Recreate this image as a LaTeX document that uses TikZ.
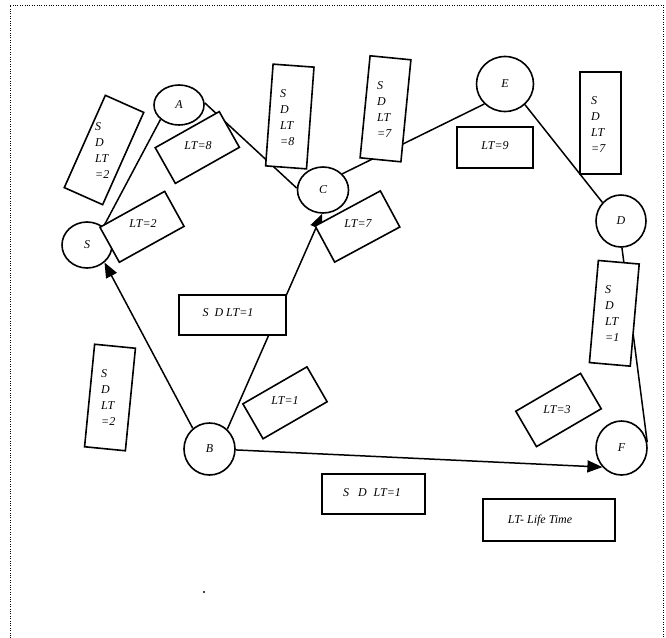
\documentclass[tikz,border=0pt]{standalone}
\usepackage{fontspec}
\setmainfont{Liberation Serif}
\usetikzlibrary{shapes.geometric,arrows.meta}
\begin{document}
\begin{tikzpicture}[x=1pt,y=1pt,
  vtx/.style={ellipse,draw,line width=1.6pt,fill=white,inner sep=0pt,font=\fontsize{12}{16}\selectfont\itshape},
  lbox/.style={rectangle,draw,line width=1.6pt,fill=white,inner sep=0pt},
  lbl/.style={font=\fontsize{12}{16}\selectfont\itshape,inner sep=0pt},
  vlbl/.style={lbl,align=left,anchor=west},
  edge/.style={line width=1.5pt},
  arr/.style={edge,-{Triangle[length=15pt,width=12pt]}}]
\useasboundingbox (0,0) rectangle (666,-637);
% frame
\draw[line width=1pt,dash pattern=on 1pt off 1.4pt] (10,-660) coordinate (f1) -- (10,-5) coordinate (f2) -- (663,-5) coordinate (f3) -- (663,-660) coordinate (f4);
% vertices
\node[vtx,minimum width=50,minimum height=46] (S) at (87,-245) {S};
\node[vtx,minimum width=50,minimum height=40] (A) at (179,-105) {A};
\node[vtx,minimum width=51,minimum height=46] (C) at (323,-190) {C};
\node[vtx,minimum width=57,minimum height=55] (E) at (505,-84) {E};
\node[vtx,minimum width=50,minimum height=52] (D) at (621,-221) {D};
\node[vtx,minimum width=51,minimum height=54] (F) at (621.5,-448) {F};
\node[vtx,minimum width=51,minimum height=52] (B) at (209.5,-449) {B};
% edges
\draw[edge] (S.48) -- (A.218);
\draw[edge] (A.5) -- (C.176);
\draw[edge] (C.40) -- (E.224);
\draw[edge] (E.-46) -- (D.135);
\draw[edge] (D.-88) -- (F.13);
\draw[arr] (B.129) -- (S.-45);
\draw[arr] (B.48) -- (C.-92);
\draw[arr] (B.-2) -- (F.-135);
% boxes
\node[lbox,rotate=-24,minimum width=42,minimum height=101] (b1) at (104,-150) {};
\node[lbox,rotate=29.4,minimum width=73.5,minimum height=41] (b2) at (197.3,-147.5) {};
\node[lbox,rotate=29,minimum width=74,minimum height=40] (b3) at (142,-226.8) {};
\node[lbox,rotate=-4.2,minimum width=41,minimum height=102] (b4) at (289.8,-116.5) {};
\node[lbox,rotate=-5.6,minimum width=41,minimum height=102.5] (b5) at (385.5,-108.8) {};
\node[lbox,minimum width=76,minimum height=41] (b6) at (495,-147.5) {};
\node[lbox,minimum width=41,minimum height=102] (b7) at (600.5,-123) {};
\node[lbox,rotate=28.3,minimum width=74,minimum height=41] (b8) at (357.5,-226.5) {};
\node[lbox,minimum width=107,minimum height=40] (b9) at (232.5,-315) {};
\node[lbox,rotate=-5.6,minimum width=41,minimum height=103] (b10) at (110,-397.5) {};
\node[lbox,rotate=30,minimum width=74,minimum height=40.3] (b11) at (285,-402.8) {};
\node[lbox,minimum width=103,minimum height=40] (b12) at (373.5,-494) {};
\node[lbox,rotate=30.3,minimum width=75,minimum height=41] (b13) at (558.5,-410) {};
\node[lbox,rotate=-5,minimum width=41,minimum height=102.5] (b14) at (614.3,-313.3) {};
\node[lbox,minimum width=132,minimum height=42] (b15) at (549,-520) {};
% labels
\node[vlbl] (t1) at (95,-151) {S\\D\\LT\\=2};
\node[lbl] (t2) at (198,-146) {LT=8};
\node[lbl] (t3) at (143,-224) {LT=2};
\node[vlbl] (t4) at (280,-117.5) {S\\D\\LT\\=8};
\node[vlbl] (t5) at (377,-110) {S\\D\\LT\\=7};
\node[lbl] (t6) at (495,-146) {LT=9};
\node[vlbl] (t7) at (591,-124.5) {S\\D\\LT\\=7};
\node[lbl] (t8) at (358,-224) {LT=7};
\node[lbl] (t9) at (228,-313) {S\hspace{6pt}D LT=1};
\node[vlbl] (t10) at (101,-398) {S\\D\\LT\\=2};
\node[lbl] (t11) at (285,-401) {LT=1};
\node[lbl] (t12) at (372,-493) {S\hspace{9pt}D\hspace{7pt}LT=1};
\node[lbl] (t13) at (557,-410) {LT=3};
\node[vlbl] (t14) at (605,-314) {S\\D\\LT\\=1};
\node[lbl] (t15) at (540,-521) {LT- Life Time};
% stray dot
\fill (204,-592) circle (1.1) coordinate (dot);
\end{tikzpicture}
\end{document}
